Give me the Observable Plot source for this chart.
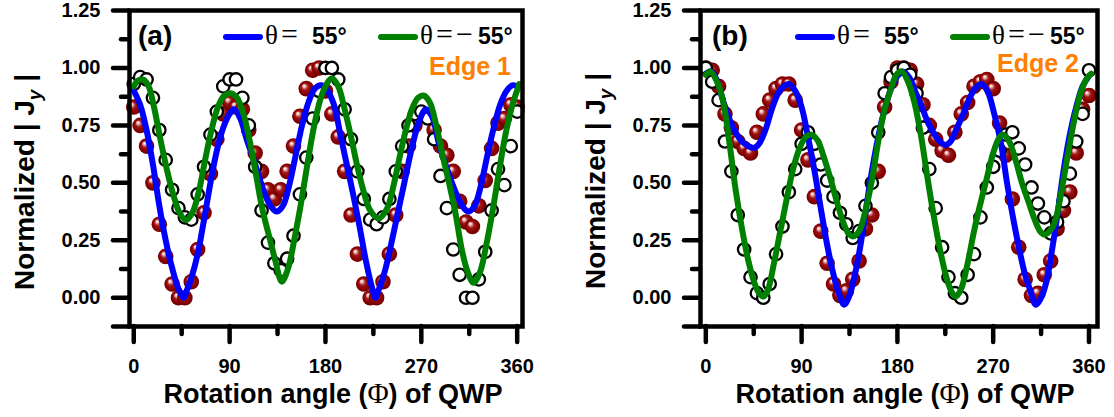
<!DOCTYPE html>
<html>
<head>
<meta charset="utf-8">
<script src="https://cdn.jsdelivr.net/npm/d3@7"></script>
<script src="https://cdn.jsdelivr.net/npm/@observablehq/plot@0.6"></script>
<style>
  html, body { margin: 0; padding: 0; background: #ffffff; }
  #wrap { position: relative; width: 1114px; height: 417px; overflow: hidden; background: #fff; }
  #wrap > svg { position: absolute; top: 0; }
</style>
</head>
<body>
<div id="wrap"></div>
<script>
// ---------- measured angles (QWP rotation, degrees) ----------
const angles = [0,6,12,18,24,30,36,42,48,54,60,66,72,78,84,90,96,102,108,114,120,126,132,138,144,150,156,162,168,174,180,186,192,198,204,210,216,222,228,234,240,246,252,258,264,270,276,282,288,294,300,306,312,318,324,330,336,342,348,354,360];

// ---------- panel (a): Edge 1 ----------
const aSpheres = [0.83,0.75,0.66,0.50,0.32,0.18,0.06,0.00,0.00,0.07,0.21,0.37,0.54,0.69,0.80,0.85,0.83,0.82,0.73,0.63,0.55,0.47,0.43,0.47,0.55,0.66,0.79,0.91,0.99,1.00,0.90,0.80,0.70,0.55,0.36,0.19,0.06,0.00,0.00,0.07,0.19,0.36,0.55,0.66,0.75,0.80,0.79,0.73,0.66,0.62,0.55,0.42,0.33,0.31,0.40,0.51,0.65,0.76,0.78,0.84,0.83];
const aCircles = [0.93,0.96,0.95,0.87,0.73,0.60,0.47,0.39,0.35,0.34,0.45,0.57,0.71,0.81,0.92,0.95,0.95,0.87,0.75,0.57,0.38,0.24,0.15,0.12,0.17,0.27,0.45,0.61,0.78,0.90,1.00,1.00,0.95,0.82,0.69,0.55,0.43,0.34,0.32,0.35,0.43,0.55,0.66,0.75,0.80,0.81,0.78,0.69,0.53,0.39,0.21,0.10,0.00,0.00,0.08,0.20,0.38,0.56,0.49,0.66,0.81];
const aBlueX = [0,6,12,18,24,30,36,42,47,50,54,60,66,72,78,84,90,94,100,106,112,118,124,130,134,140,146,152,158,164,170,176,182,188,194,200,206,212,218,224,227,230,236,242,248,254,260,266,272,274,280,286,292,298,304,310,314,320,326,332,338,344,350,356,360];
const aBlueY = [0.90,0.84,0.73,0.58,0.40,0.25,0.13,0.04,0,0.035,0.085,0.19,0.34,0.50,0.64,0.74,0.80,0.82,0.78,0.69,0.61,0.52,0.44,0.39,0.375,0.40,0.49,0.62,0.75,0.85,0.91,0.925,0.90,0.84,0.71,0.58,0.45,0.31,0.16,0.04,0,0.035,0.12,0.24,0.37,0.50,0.63,0.74,0.81,0.82,0.79,0.68,0.59,0.51,0.44,0.39,0.375,0.40,0.49,0.62,0.74,0.84,0.90,0.925,0.92];
const aGreenX = [0,4,9,14,19,25,31,37,43,49,55,61,67,73,79,85,91,97,103,109,115,121,127,133,139,145,151,157,163,169,175,181,186,192,198,204,210,216,222,230,238,244,250,256,262,267,272,278,284,290,296,302,308,313,319,325,331,337,343,349,355,362];
const aGreenY = [0.92,0.945,0.95,0.92,0.83,0.69,0.56,0.45,0.37,0.338,0.37,0.46,0.60,0.73,0.83,0.88,0.89,0.87,0.80,0.68,0.53,0.38,0.27,0.16,0.07,0.13,0.26,0.41,0.58,0.74,0.86,0.93,0.955,0.92,0.82,0.70,0.57,0.46,0.38,0.345,0.39,0.49,0.62,0.74,0.83,0.87,0.88,0.85,0.75,0.62,0.50,0.37,0.21,0.12,0.065,0.11,0.23,0.38,0.55,0.71,0.83,0.93];

// ---------- panel (b): Edge 2 ----------
const bSpheres = [1.00,0.99,0.92,0.80,0.74,0.68,0.65,0.63,0.72,0.80,0.86,0.91,0.93,0.93,0.86,0.73,0.60,0.44,0.29,0.15,0.06,0.01,0.03,0.08,0.16,0.30,0.36,0.55,0.83,0.94,1.00,1.00,0.99,0.93,0.84,0.75,0.69,0.64,0.62,0.72,0.80,0.85,0.92,0.94,0.95,0.91,0.76,0.62,0.43,0.22,0.08,0.01,0.02,0.10,0.16,0.30,0.38,0.46,0.63,0.82,0.88];
const bCircles = [1.00,0.94,0.86,0.68,0.55,0.36,0.21,0.09,0.02,0.00,0.06,0.19,0.31,0.46,0.56,0.67,0.72,0.67,0.58,0.51,0.44,0.37,0.32,0.26,0.29,0.40,0.50,0.72,0.89,0.96,0.99,1.00,0.97,0.89,0.74,0.56,0.39,0.22,0.09,0.02,0.00,0.10,0.19,0.35,0.48,0.57,0.64,0.71,0.72,0.65,0.58,0.48,0.41,0.35,0.28,0.33,0.42,0.54,0.68,0.80,0.99];
const bBlueX = [0,5,10,16,22,28,34,40,45,50,56,62,68,73,78,84,90,96,102,108,114,120,125,130,135,140,145,150,156,162,168,174,180,185,191,197,203,209,215,220,225,230,236,242,248,253,259,265,271,277,283,289,295,300,305,310,315,320,325,330,336,342,348,354,360];
const bBlueY = [0.975,0.985,0.95,0.86,0.78,0.72,0.68,0.66,0.652,0.67,0.73,0.82,0.89,0.92,0.93,0.90,0.83,0.70,0.555,0.39,0.23,0.10,0.02,-0.03,0.01,0.10,0.22,0.37,0.55,0.70,0.82,0.91,0.965,0.985,0.96,0.895,0.83,0.76,0.71,0.68,0.665,0.68,0.74,0.80,0.87,0.91,0.93,0.895,0.80,0.68,0.50,0.34,0.20,0.10,0.03,-0.03,0.00,0.07,0.20,0.35,0.55,0.71,0.83,0.92,0.965];
const bGreenX = [0,4,10,16,22,28,34,40,46,50,54,58,64,70,76,82,88,94,99,105,111,117,123,129,134,138,144,150,156,162,168,174,179,184,190,196,202,208,214,220,226,231,235,240,246,252,258,264,270,275,279,285,291,297,303,309,314,318,323,328,334,340,346,352,358,362];
const bGreenY = [0.97,0.985,0.945,0.86,0.68,0.47,0.30,0.16,0.06,0.02,0.005,0.03,0.15,0.29,0.43,0.56,0.65,0.70,0.71,0.685,0.61,0.52,0.42,0.33,0.28,0.267,0.29,0.38,0.51,0.68,0.82,0.91,0.97,0.985,0.94,0.85,0.71,0.53,0.36,0.21,0.09,0.025,0.005,0.04,0.15,0.29,0.41,0.52,0.63,0.69,0.71,0.68,0.60,0.50,0.42,0.34,0.29,0.275,0.29,0.33,0.46,0.62,0.77,0.89,0.955,0.975];

// ---------- ticks & labels ----------
const xMajor = [0, 90, 180, 270, 360];
const xMinor = [45, 135, 225, 315];
const yMajor = [0, 0.25, 0.5, 0.75, 1.0, 1.25];
const yMinor = [0.125, 0.375, 0.625, 0.875, 1.125];
const yBottom = [-0.125];
const xTitle = ["Rotation angle (", "Φ", ") of QWP"];
const legendNeg = ["θ", "=", "−"];
const legendVal = "55°";

const SANS = "'Liberation Sans', Arial, Helvetica, sans-serif";
const SERIF = "'Liberation Serif', 'Times New Roman', serif";

const wrap = document.getElementById("wrap");

function buildPanel(cfg) {
  const sph = angles.map((a, i) => ({angle: a, value: cfg.spheres[i]}));
  const opn = angles.map((a, i) => ({angle: a, value: cfg.circles[i]}));
  const blue = cfg.blueX.map((a, i) => ({angle: a, value: cfg.blueY[i]}));
  const green = cfg.greenX.map((a, i) => ({angle: a, value: cfg.greenY[i]}));
  const ax = {fontSize: 20, fontWeight: "bold", label: null, strokeWidth: 4.5, strokeLinecap: "round"};
  const svg = Plot.plot({
    width: 557, height: 417,
    marginLeft: cfg.marginLeft, marginRight: cfg.marginRight, marginTop: 10, marginBottom: 91,
    x: {domain: cfg.xDomain},
    y: {domain: [-0.125, 1.25]},
    style: {fontFamily: SANS, background: "transparent", color: "black"},
    marks: [
      Plot.dot(sph, {x: "angle", y: "value", r: 7.8, fill: "#8b0000"}),
      Plot.dot(opn, {x: "angle", y: "value", r: 6.2, fill: "white", stroke: "black", strokeWidth: 2.3}),
      Plot.line(blue, {x: "angle", y: "value", stroke: "#0000ff", strokeWidth: 6, curve: "catmull-rom"}),
      Plot.line(green, {x: "angle", y: "value", stroke: "#008000", strokeWidth: 6, curve: "catmull-rom"}),
      Plot.axisX(xMajor, {...ax, tickSize: 16, tickPadding: 16}),
      Plot.axisX(xMinor, {...ax, tickSize: 8, tickFormat: () => ""}),
      Plot.axisY(yMajor, {...ax, tickSize: 16, tickPadding: 13, tickFormat: d3.format(".2f")}),
      Plot.axisY(yMinor, {...ax, tickSize: 8, tickFormat: () => ""}),
      Plot.axisY(yBottom, {...ax, tickSize: 16, tickFormat: () => ""}),
      Plot.frame({stroke: "black", strokeWidth: 4.5})
    ]
  });
  svg.style.left = cfg.left + "px";
  const s = d3.select(svg);
  const defs = s.insert("defs", ":first-child");
  const g = defs.append("radialGradient").attr("id", cfg.id)
    .attr("cx", 0.5).attr("cy", 0.5).attr("r", 0.5).attr("fx", 0.34).attr("fy", 0.3);
  g.append("stop").attr("offset", "0%").attr("stop-color", "#ffffff");
  g.append("stop").attr("offset", "15%").attr("stop-color", "#f0c8c8");
  g.append("stop").attr("offset", "42%").attr("stop-color", "#a01818");
  g.append("stop").attr("offset", "75%").attr("stop-color", "#8a0000");
  g.append("stop").attr("offset", "100%").attr("stop-color", "#700000");
  // the first dot mark holds the filled (sphere) markers
  const dotGroups = svg.querySelectorAll('g[aria-label="dot"]');
  if (dotGroups.length) {
    d3.select(dotGroups[0]).attr("fill", `url(#${cfg.id})`)
      .selectAll("circle").attr("fill", `url(#${cfg.id})`);
  }
  wrap.appendChild(svg);
}

buildPanel({id: "sphA", left: 0, marginLeft: 129, marginRight: 35, xDomain: [-4, 365],
  spheres: aSpheres, circles: aCircles, blueX: aBlueX, blueY: aBlueY, greenX: aGreenX, greenY: aGreenY});
buildPanel({id: "sphB", left: 557, marginLeft: 143, marginRight: 17, xDomain: [-5, 368],
  spheres: bSpheres, circles: bCircles, blueX: bBlueX, blueY: bBlueY, greenX: bGreenX, greenY: bGreenY});

// ---------- annotations overlay ----------
const ov = d3.select(wrap).append("svg")
  .attr("width", 1114).attr("height", 417)
  .style("left", "0px").style("pointer-events", "none");

function annotate(p) {
  ov.append("text").attr("x", p.tagX).attr("y", 45).attr("font-family", SANS)
    .attr("font-weight", "bold").attr("font-size", 28).text(p.tag);
  // blue legend
  ov.append("line").attr("x1", p.bx + 3).attr("x2", p.bx + 37).attr("y1", 37).attr("y2", 37)
    .attr("stroke", "#0000ff").attr("stroke-width", 6).attr("stroke-linecap", "round");
  ov.append("text").attr("x", p.bx + 42).attr("y", 44).attr("font-family", SERIF)
    .attr("font-size", 27).text(legendNeg[0]);
  ov.append("text").attr("x", p.bx + 58).attr("y", 44).attr("font-family", SERIF)
    .attr("font-size", 30).text(legendNeg[1]);
  ov.append("text").attr("x", p.bx + 89).attr("y", 44).attr("font-family", SANS)
    .attr("font-weight", "bold").attr("font-size", 23).text(legendVal);
  // green legend
  ov.append("line").attr("x1", p.gx + 3).attr("x2", p.gx + 37).attr("y1", 37).attr("y2", 37)
    .attr("stroke", "#008000").attr("stroke-width", 6).attr("stroke-linecap", "round");
  ov.append("text").attr("x", p.gx + 42).attr("y", 44).attr("font-family", SERIF)
    .attr("font-size", 27).text(legendNeg[0]);
  ov.append("text").attr("x", p.gx + 58).attr("y", 44).attr("font-family", SERIF)
    .attr("font-size", 30).text(legendNeg[1]);
  ov.append("text").attr("x", p.gx + 78).attr("y", 44).attr("font-family", SERIF)
    .attr("font-size", 30).text(legendNeg[2]);
  ov.append("text").attr("x", p.gx + 100).attr("y", 44).attr("font-family", SANS)
    .attr("font-weight", "bold").attr("font-size", 23).text(legendVal);
  // edge label
  ov.append("text").attr("x", p.edgeX).attr("y", p.edgeY).attr("text-anchor", "end")
    .attr("font-family", SANS).attr("font-weight", "bold").attr("font-size", 25)
    .attr("fill", "#ff8000").text(p.edge);
  // x title
  const xt = ov.append("text").attr("x", p.xtX).attr("y", 403).attr("text-anchor", "middle")
    .attr("font-family", SANS).attr("font-weight", "bold").attr("font-size", 27);
  xt.append("tspan").text(xTitle[0]);
  xt.append("tspan").attr("font-family", SERIF).attr("font-weight", "normal").attr("font-size", 29).text(xTitle[1]);
  xt.append("tspan").text(xTitle[2]);
  // y title
  const yt = ov.append("text").attr("transform", `translate(${p.ytX},${p.ytY}) rotate(-90)`)
    .attr("text-anchor", "middle").attr("font-family", SANS).attr("font-weight", "bold").attr("font-size", 28);
  yt.append("tspan").text("Normalized | J");
  yt.append("tspan").attr("font-style", "italic").attr("font-size", 19).attr("dy", 7).text("y");
  yt.append("tspan").attr("dy", -7).text(" |");
}

annotate({tag: "(a)", tagX: 138, bx: 223, gx: 378, edge: "Edge 1", edgeX: 511, edgeY: 75, xtX: 333, ytX: 34, ytY: 182});
annotate({tag: "(b)", tagX: 712, bx: 795, gx: 950, edge: "Edge 2", edgeX: 1079, edgeY: 72, xtX: 905, ytX: 605, ytY: 181});
</script>
</body>
</html>
